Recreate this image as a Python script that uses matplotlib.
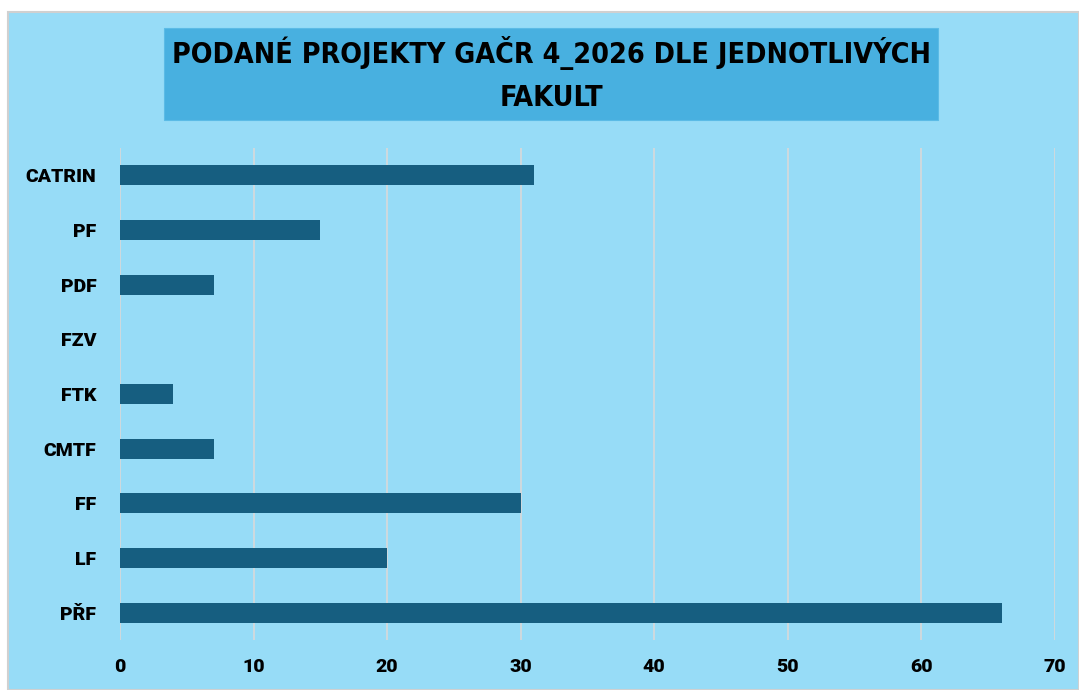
import matplotlib
matplotlib.use("Agg")
import matplotlib.pyplot as plt
from matplotlib.patches import Rectangle

categories = ["CATRIN", "PF", "PDF", "FZV", "FTK", "CMTF", "FF", "LF", "PŘF"]
values = [31, 15, 7, 0, 4, 7, 30, 20, 66]
xticks = [0, 10, 20, 30, 40, 50, 60, 70]
title = "PODANÉ PROJEKTY GAČR 4_2026 DLE JEDNOTLIVÝCH\nFAKULT"

W, H = 1079, 690
fig = plt.figure(figsize=(W / 100, H / 100), dpi=100)
fig.patch.set_facecolor("white")

bg = "#97DCF7"
fig.patches.append(Rectangle((8 / W, 0), 1 - 8 / W, 1 - 12 / H, transform=fig.transFigure,
                             facecolor=bg, edgecolor="#D0D0D0", linewidth=1.5, zorder=-2))
fig.patches.append(Rectangle((164 / W, 1 - 120 / H), (938 - 164) / W, (120 - 28) / H,
                             transform=fig.transFigure, facecolor="#48B0E0",
                             edgecolor="#5BBBE6", linewidth=0.8, zorder=-1))
fig.text((164 + 938) / 2 / W, 1 - 74 / H, title, ha="center", va="center",
         fontsize=20.5, fontweight="bold", linespacing=1.6, fontstretch="condensed",
         family=["DejaVu Sans"], color="black", zorder=2)

ax = fig.add_axes([120 / W, 1 - 640 / H, (1055 - 120) / W, (640 - 148) / H])
ax.set_facecolor("none")
ypos = list(range(len(categories)))
ax.barh(ypos, values, height=0.36, color="#165E80", linewidth=0, zorder=3)
ax.set_ylim(len(categories) - 0.5, -0.5)
ax.set_xlim(0, 70)
ax.set_xticks(xticks)
ax.set_yticks(ypos)
ax.set_yticklabels(categories)
ax.grid(axis="x", color="#D9D9D9", linewidth=1.2, zorder=0)
ax.set_axisbelow(True)
for s in ax.spines.values():
    s.set_visible(False)
ax.tick_params(axis="both", length=0)
ax.tick_params(axis="y", pad=17)
ax.tick_params(axis="x", pad=13)
for lab in ax.get_xticklabels() + ax.get_yticklabels():
    lab.set_fontfamily(["Roboto", "DejaVu Sans"])
    lab.set_fontweight("heavy")
    lab.set_fontsize(14)
    lab.set_color("black")

fig.savefig("out.png", dpi=100, facecolor="white")
